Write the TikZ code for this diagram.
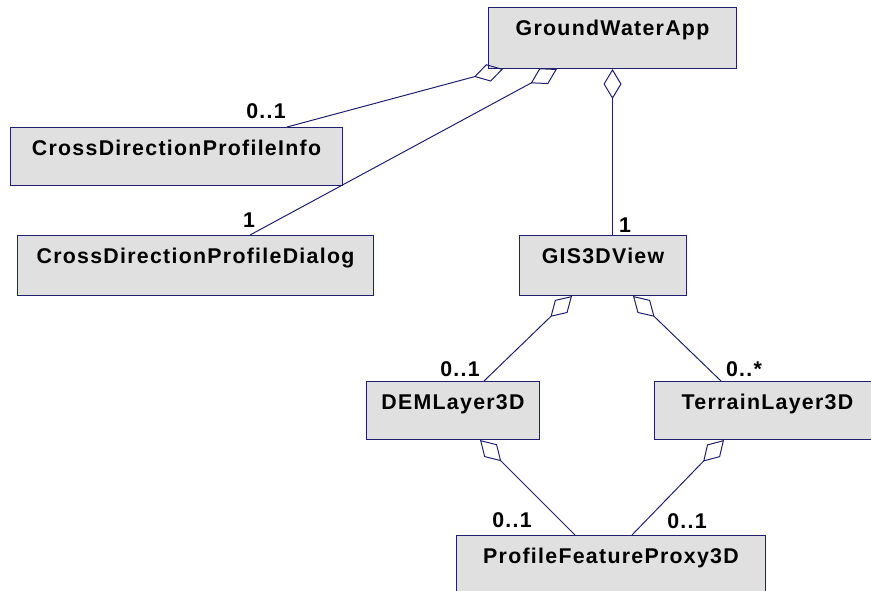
\documentclass[tikz,border=0pt]{standalone}
\usepackage{fontspec}
\usepackage{tikz}
\usetikzlibrary{arrows.meta}
\usetikzlibrary{calc}
\newfontfamily\umlfont[LetterSpace=6]{Liberation Sans}
\definecolor{umlline}{RGB}{32,32,110}
\definecolor{umlfill}{RGB}{224,224,224}

\begin{document}
\begin{tikzpicture}[x=0.75pt,y=-0.75pt,
	box/.style={rectangle,draw=umlline,fill=umlfill,line width=0.75pt,inner sep=0pt,
		text height=21pt,anchor=north west,font=\umlfont\bfseries\fontsize{16pt}{19pt}\selectfont},
	mult/.style={inner sep=0pt,font=\umlfont\bfseries\fontsize{16pt}{19pt}\selectfont},
	agg/.style={-{Diamond[open,length=22.5pt,width=13.5pt]},draw=umlline,line width=0.75pt,line join=miter}
	]
	\clip (0,0) rectangle (871,590);

	\node [box,minimum width=186pt,text depth=24.75pt] (app)		at (488,7)	{GroundWaterApp};
	\node [box,minimum width=249pt,text depth=22.5pt] (info)		at (10,127)	{CrossDirectionProfileInfo};
	\node [box,minimum width=267pt,text depth=24pt] (dialog)		at (17,235)	{CrossDirectionProfileDialog};
	\node [box,minimum width=125.25pt,text depth=24pt] (view)		at (519,235)	{GIS3DView};
	\node [box,minimum width=129.75pt,text depth=22.5pt] (dem)		at (366,381)	{DEMLayer3D};
	\node [box,minimum width=169.5pt,text depth=22.5pt] (terrain)	at (654,381)	{TerrainLayer3D};
	\node [box,minimum width=231.75pt,text depth=24pt] (proxy)		at (456,535)	{ProfileFeatureProxy3D};

	\node [mult] (infomult)		at (266,111)	{0..1};
	\node [mult] (dialogmult)	at (249,220)	{1};
	\node [mult] (viewmult)		at (625,225)	{1};
	\node [mult] (demmult)		at (460,369)	{0..1};
	\node [mult] (terrainmult)	at (744,369)	{0..*};
	\node [mult] (proxydem)		at (512,520)	{0..1};
	\node [mult] (proxyterrain)	at (687,521)	{0..1};

	\draw [agg] ($(info.north west)+(277,0)$)		to ($(app.south west)+(15,0)$);
	\draw [agg] ($(dialog.north west)+(233,0)$)	to ($(app.south west)+(69,0)$);
	\draw [agg] (app.south |- view.north)		to (app.south);
	\draw [agg] ($(dem.north west)+(118,0)$)		to ($(view.south west)+(53,0)$);
	\draw [agg] ($(terrain.north west)+(67,0)$)	to ($(view.south west)+(114,0)$);
	\draw [agg] ($(proxy.north west)+(119,0)$)	to ($(dem.south west)+(114,0)$);
	\draw [agg] ($(proxy.north west)+(176,0)$)	to ($(terrain.south west)+(70,0)$);

\end{tikzpicture}
\end{document}
